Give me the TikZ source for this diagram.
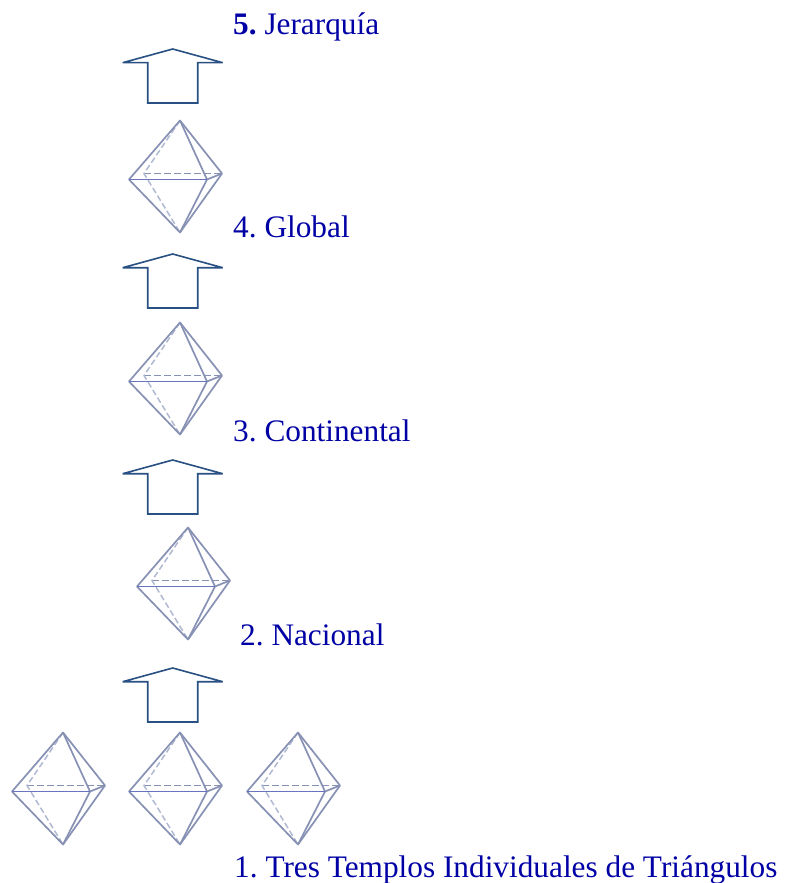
\documentclass[tikz,border=0pt]{standalone}
\usepackage{fontspec}
\setmainfont{Liberation Serif}
\definecolor{lbl}{RGB}{0,0,165}
\definecolor{arw}{RGB}{40,80,130}
\definecolor{edgeA}{RGB}{135,145,180}
\definecolor{edgeB}{RGB}{105,115,190}
\definecolor{edgeC}{RGB}{175,185,210}
\tikzset{
  x=1pt,y=-1pt,
  lab/.style={anchor=base west,inner sep=0pt,text=lbl,font=\fontsize{31.3}{34}\selectfont},
  uparrow/.style={draw=arw,line width=1.6pt,line join=miter,miter limit=2,fill=white},
  frontedge/.style={draw=edgeA,line width=1.7pt,line join=round},
  frontbar/.style={draw=edgeB,line width=1.7pt},
  hidden/.style={draw=edgeC,line width=1.5pt,dash pattern=on 6pt off 3pt},
  hiddenh/.style={draw=edgeA,line width=1.4pt,dash pattern=on 7pt off 3pt}
}
\newcommand{\octa}[2]{%
  \begin{scope}[shift={(#1,#2)}]
    \draw[hiddenh] (-36,53) -- (42,53);
    \draw[hidden] (0,0) -- (-36,53) -- (0,112);
    \draw[frontedge] (-51,59) -- (0,0) -- (42,53) -- (0,112) -- cycle;
    \draw[frontedge] (0,0) -- (27,59) -- (0,112);
    \draw[frontedge] (27,59) -- (42,53);
    \draw[frontbar] (-51,59) -- (27,59);
  \end{scope}}
\newcommand{\uparr}[2]{%
  \draw[uparrow,shift={(#1,#2)}] (-50,13.7) -- (0,0) -- (50,13.7) -- (25,13.7) -- (25,54) -- (-25,54) -- (-25,13.7) -- cycle;}
\begin{document}
\frenchspacing
\begin{tikzpicture}
\useasboundingbox (0,0) rectangle (789,883);
\uparr{172.7}{49}
\uparr{172.7}{254}
\uparr{172.7}{460}
\uparr{172.7}{668}
\octa{180}{120.5}
\octa{180}{322.5}
\octa{188}{527.5}
\octa{63}{732.5}
\octa{180}{732.5}
\octa{298}{732.5}
\node[lab] (l5) at (233,34.7) {\textbf{5.} Jerarquía};
\node[lab] (l4) at (233,237.7) {4. Global};
\node[lab] (l3) at (233,441.7) {3. Continental};
\node[lab] (l2) at (240,645.7) {2. Nacional};
\node[lab] (l1) at (234,877.7) {1. Tres Templos Individuales de Triángulos};
\end{tikzpicture}
\end{document}
